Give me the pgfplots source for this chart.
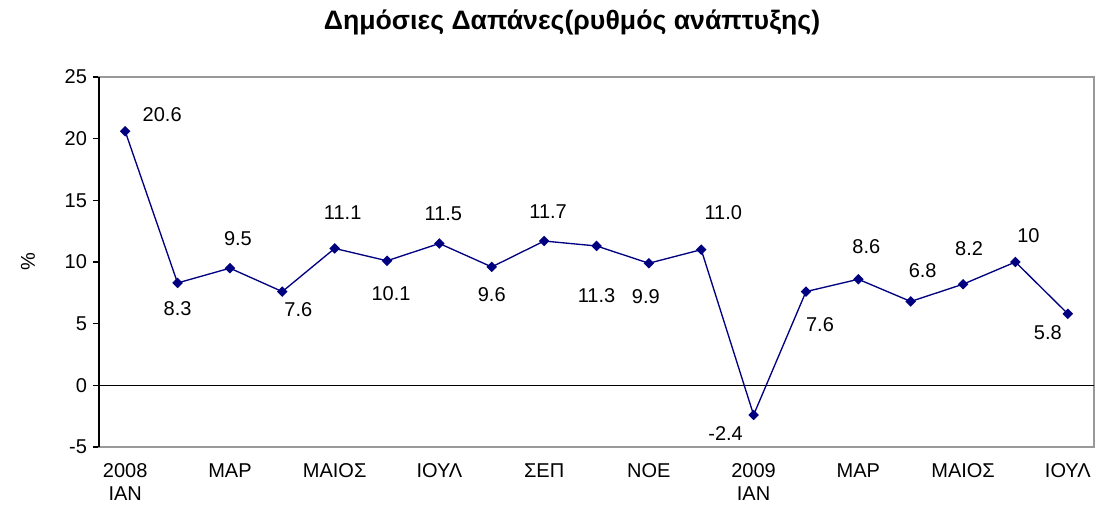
\documentclass[border=0pt]{standalone}
\usepackage{pgfplots}
\pgfplotsset{compat=1.18}
\usepackage{pgfplotstable}
\usepackage{fontspec}
\setmainfont{Liberation Sans}
\definecolor{navyline}{RGB}{0,0,128}
\pgfplotstableread{
x y dx dy lab
0 20.6 37 17 20.6
1 8.3 0 -26 8.3
2 9.5 8 30 9.5
3 7.6 16 -18 7.6
4 11.1 8 36 11.1
5 10.1 4 -33 10.1
6 11.5 4 30 11.5
7 9.6 0 -28 9.6
8 11.7 4 29 11.7
9 11.3 0 -50 11.3
10 9.9 -3 -33 9.9
11 11.0 22 37 11.0
12 -2.4 -28 -19 -2.4
13 7.6 14 -33 7.6
14 8.6 8 33 8.6
15 6.8 12 31 6.8
16 8.2 6 36 8.2
17 10 13 26 10
18 5.8 -20 -19 5.8
}\datatable
\begin{document}
\begin{tikzpicture}
\useasboundingbox (0,0) rectangle (822.75pt,383.25pt);
\node[font=\fontsize{20}{24}\selectfont\bfseries] at (429pt,366.75pt) {Δημόσιες Δαπάνες(ρυθμός ανάπτυξης)};
\begin{axis}[
  at={(74.25pt,48pt)}, anchor=south west,
  scale only axis, width=746.25pt, height=277.5pt,
  xmin=-0.5, xmax=18.5, ymin=-5, ymax=25,
  ytick={-5,0,5,10,15,20,25},
  xtick={0,2,4,6,8,10,12,14,16,18},
  xticklabels={{\strut 2008\\ΙΑΝ},{\strut ΜΑΡ},{\strut ΜΑΙΟΣ},{\strut ΙΟΥΛ},{\strut ΣΕΠ},{\strut ΝΟΕ},{\strut 2009\\ΙΑΝ},{\strut ΜΑΡ},{\strut ΜΑΙΟΣ},{\strut ΙΟΥΛ}},
  xticklabel style={align=center, font=\fontsize{15}{17.5}\selectfont, yshift=-2.5pt},
  yticklabel style={font=\fontsize{15}{17.5}\selectfont, xshift=-1pt},
  x tick style={draw=none},
  ytick pos=left, tick align=outside, major tick length=4.5pt,
  y tick style={black, line width=0.8pt},
  axis line style={gray!80, line width=0.8pt},
  extra y ticks={0}, extra y tick labels={},
  extra y tick style={grid=major, major grid style={black, line width=0.8pt}},
  ylabel={\%}, ylabel style={at={(axis description cs:-0.0714,0.5)}, anchor=center, font=\fontsize{15}{17.5}\selectfont},
  /pgf/number format/assume math mode=true,
  clip=false,
]
\addplot[navyline, line width=1pt, mark=square*, mark size=2.3pt,
  mark options={rotate=45, fill=navyline},
  point meta=explicit symbolic,
  visualization depends on={\thisrow{dx} \as \dxv},
  visualization depends on={\thisrow{dy} \as \dyv},
  nodes near coords,
  every node near coord/.append style={anchor=center, black, font=\fontsize{15}{17.5}\selectfont, xshift=0.75*\dxv pt, yshift=0.75*\dyv pt},
] table[x=x, y=y, meta=lab] {\datatable};
\draw[black, line width=0.8pt] (rel axis cs:0,0) -- (rel axis cs:0,1);
\end{axis}
\end{tikzpicture}
\end{document}
